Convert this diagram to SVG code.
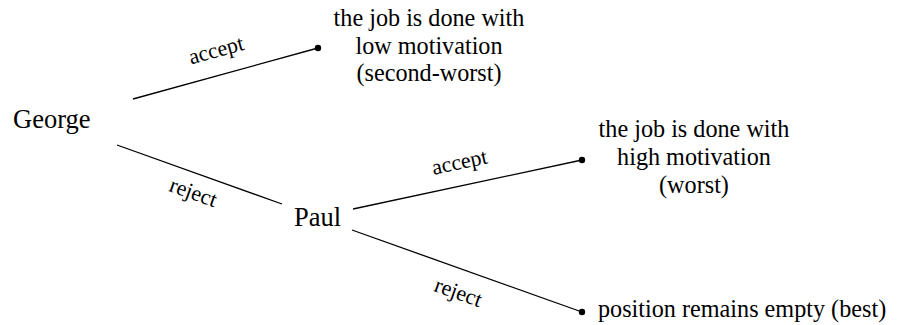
<svg xmlns="http://www.w3.org/2000/svg" width="897" height="325" viewBox="0 0 897 325">
  <style>
    text { font-family: "Liberation Serif", "Times New Roman", "DejaVu Serif", serif; fill: #000; }
    .player { font-size: 26.5px; }
    .outcome { font-size: 24.2px; text-anchor: middle; }
    .outcome-left { font-size: 24.2px; }
    .label { font-size: 22px; text-anchor: middle; }
    .edge { stroke: #000; stroke-width: 1.3; fill: none; }
    .leaf { fill: #000; }
  </style>
  <rect width="897" height="325" fill="#fff"/>

  <g id="connectors">
    <line class="edge" x1="133" y1="99" x2="318" y2="48"/>
    <line class="edge" x1="117" y1="145" x2="282" y2="204"/>
    <line class="edge" x1="353" y1="209" x2="582" y2="160"/>
    <line class="edge" x1="352" y1="230" x2="582" y2="312"/>
    <text class="label" transform="translate(218,57) rotate(-15.4)">accept</text>
    <text class="label" transform="translate(191,199) rotate(19.7)">reject</text>
    <text class="label" transform="translate(461,169) rotate(-12.1)">accept</text>
    <text class="label" transform="translate(456,299) rotate(19.6)">reject</text>
  </g>

  <g id="george">
    <text class="player" x="13" y="128">George</text>
  </g>

  <g id="paul">
    <text class="player" x="294" y="226">Paul</text>
  </g>

  <g id="outcome-low-motivation">
    <circle class="leaf" cx="318" cy="48" r="3.2"/>
    <text class="outcome" x="429" y="26">the job is done with</text>
    <text class="outcome" x="429" y="54">low motivation</text>
    <text class="outcome" x="429" y="81">(second-worst)</text>
  </g>

  <g id="outcome-high-motivation">
    <circle class="leaf" cx="582" cy="160" r="3.2"/>
    <text class="outcome" x="694" y="137">the job is done with</text>
    <text class="outcome" x="694" y="165">high motivation</text>
    <text class="outcome" x="694" y="193">(worst)</text>
  </g>

  <g id="outcome-empty">
    <circle class="leaf" cx="582" cy="312" r="3.2"/>
    <text class="outcome-left" x="598" y="317">position remains empty (best)</text>
  </g>
</svg>
